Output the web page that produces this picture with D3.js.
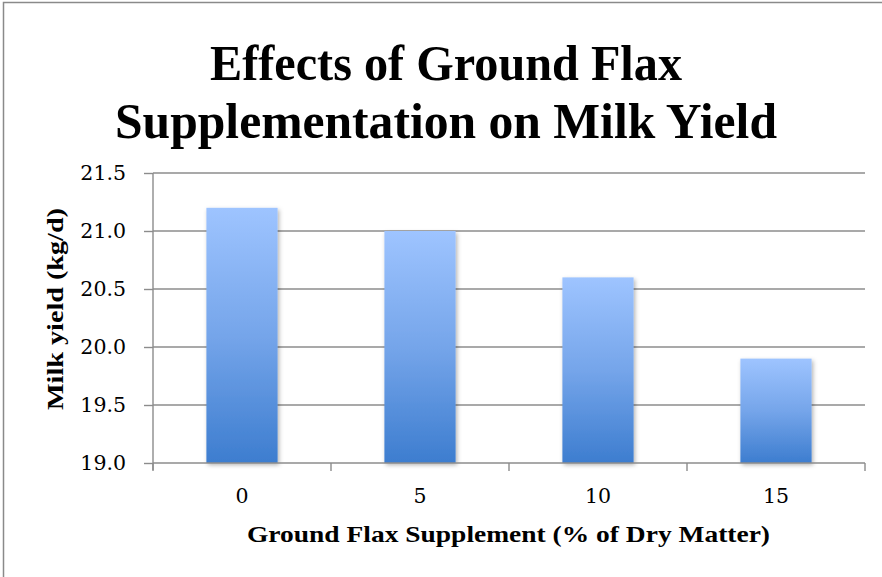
<!DOCTYPE html>
<html>
<head>
<meta charset="utf-8">
<script src="https://cdn.jsdelivr.net/npm/d3@7/dist/d3.min.js"></script>
<style>
  html, body { margin: 0; padding: 0; background: #fff; }
  svg { display: block; }
  text { fill: #000; }
</style>
</head>
<body>
<svg id="chart" width="882" height="577"></svg>
<script>
const categories = ["0", "5", "10", "15"];
const milkYield = [21.2, 21.0, 20.6, 19.9];
const yTicks = [19.0, 19.5, 20.0, 20.5, 21.0, 21.5];
const titleLines = ["Effects of Ground Flax", "Supplementation on Milk Yield"];
const xTitle = "Ground Flax Supplement (% of Dry Matter)";
const yTitle = "Milk yield (kg/d)";

const svg = d3.select("#chart");
const W = 882, H = 577;
const plot = { left: 153, right: 865, top: 173, bottom: 463 };
const serif = "'Liberation Serif', 'DejaVu Serif', serif";
const tickFont = "'DejaVu Serif', 'Liberation Serif', serif";

svg.append("rect").attr("x", 0).attr("y", 0).attr("width", W).attr("height", H).attr("fill", "#fff");
// outer chart border (only left/top visible in frame)
svg.append("rect").attr("x", 3.5).attr("y", 2.5).attr("width", W + 10).attr("height", H + 10)
  .attr("fill", "none").attr("stroke", "#8a8a8a").attr("stroke-width", 1.5);

const defs = svg.append("defs");
const grad = defs.append("linearGradient").attr("id", "barGrad")
  .attr("x1", 0).attr("y1", 0).attr("x2", 0).attr("y2", 1);
grad.append("stop").attr("offset", "0%").attr("stop-color", "#9ec4ff");
grad.append("stop").attr("offset", "50%").attr("stop-color", "#75a5ea");
grad.append("stop").attr("offset", "100%").attr("stop-color", "#3d7dcf");
const f = defs.append("filter").attr("id", "shadow").attr("x", "-20%").attr("y", "-20%").attr("width", "150%").attr("height", "150%");
f.append("feDropShadow").attr("dx", 1.5).attr("dy", 2).attr("stdDeviation", 2.2)
  .attr("flood-color", "#000").attr("flood-opacity", 0.3);

const x = d3.scaleBand().domain(categories).range([plot.left, plot.right]).paddingInner(0.6).paddingOuter(0.3);
const xb = d3.scaleBand().domain(categories).range([plot.left, plot.right]);
const y = d3.scaleLinear().domain([19.0, 21.5]).range([plot.bottom, plot.top]);

// gridlines
svg.append("g").selectAll("line").data(yTicks.slice(1)).join("line")
  .attr("x1", plot.left).attr("x2", plot.right)
  .attr("y1", d => y(d)).attr("y2", d => y(d))
  .attr("stroke", "#8c8c8c").attr("stroke-width", 1.4);

// bars
svg.append("g").selectAll("rect").data(milkYield).join("rect")
  .attr("x", (d, i) => x(categories[i]))
  .attr("width", x.bandwidth())
  .attr("y", d => y(d))
  .attr("height", d => y(19.0) - y(d))
  .attr("fill", "url(#barGrad)")
  .attr("filter", "url(#shadow)");

// y axis
const yAxis = d3.axisLeft(y).tickValues(yTicks).tickFormat(d3.format(".1f")).tickSize(9).tickPadding(18);
const gy = svg.append("g").attr("transform", `translate(${plot.left},0)`).call(yAxis);
gy.select(".domain").attr("stroke", "#8c8c8c").attr("stroke-width", 1.4).attr("d", `M0,${plot.top}V${plot.bottom + 7}`);
gy.selectAll(".tick line").attr("stroke", "#8c8c8c").attr("stroke-width", 1.4);
gy.selectAll(".tick text").style("font-family", tickFont).style("font-size", "20.5px").attr("fill", "#000");

// x axis
const gx = svg.append("g").attr("transform", `translate(0,${plot.bottom})`);
gx.append("line").attr("x1", plot.left).attr("x2", plot.right).attr("y1", 0).attr("y2", 0)
  .attr("stroke", "#8c8c8c").attr("stroke-width", 1.6);
const bounds = categories.map(c => xb(c)).concat([plot.right]);
gx.selectAll("line.tk").data(bounds).join("line").attr("class", "tk")
  .attr("x1", d => d).attr("x2", d => d).attr("y1", 0).attr("y2", 8)
  .attr("stroke", "#8c8c8c").attr("stroke-width", 1.4);
gx.selectAll("text").data(categories).join("text")
  .attr("x", d => xb(d) + xb.bandwidth() / 2).attr("y", 40)
  .attr("text-anchor", "middle").style("font-family", tickFont).style("font-size", "20.5px").text(d => d);

// titles
svg.append("g").selectAll("text").data(titleLines).join("text")
  .attr("x", 446).attr("y", (d, i) => 80 + i * 58)
  .attr("text-anchor", "middle").style("font-family", serif).style("font-weight", "bold").style("font-size", "51px")
  .attr("textLength", (d, i) => i === 0 ? 472 : 662).attr("lengthAdjust", "spacingAndGlyphs")
  .text(d => d);

svg.append("text").attr("x", 508.5).attr("y", 542)
  .attr("text-anchor", "middle").style("font-family", serif).style("font-weight", "bold").style("font-size", "24px")
  .attr("textLength", 523).attr("lengthAdjust", "spacingAndGlyphs")
  .text(xTitle);

svg.append("text").attr("transform", "translate(63,309) rotate(-90)")
  .attr("text-anchor", "middle").style("font-family", serif).style("font-weight", "bold").style("font-size", "23px")
  .attr("textLength", 202).attr("lengthAdjust", "spacingAndGlyphs")
  .text(yTitle);
</script>
</body>
</html>
